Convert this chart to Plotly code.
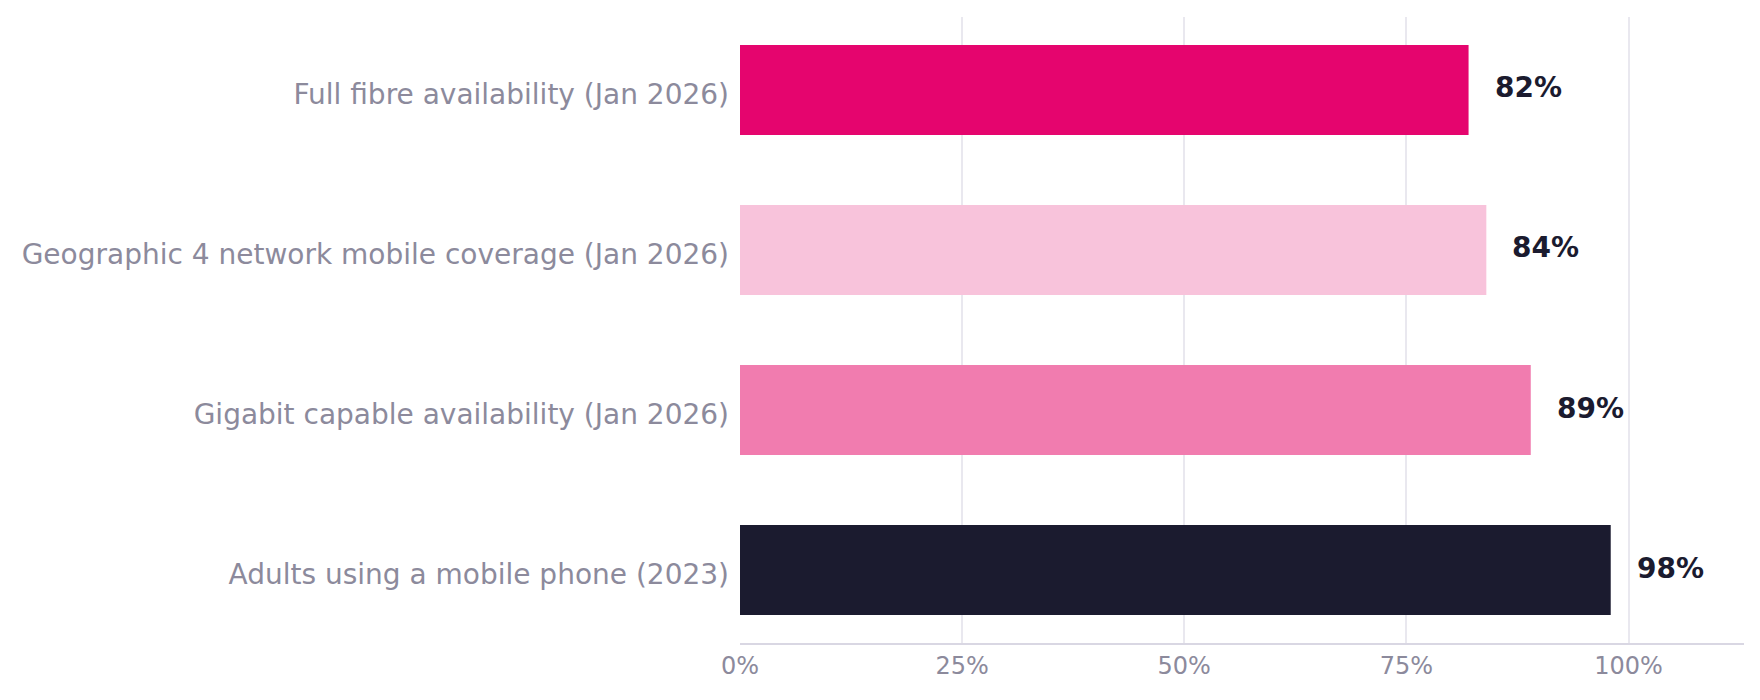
import plotly.graph_objects as go

# data
categories = [
    "Full fibre availability (Jan 2026)",
    "Geographic 4 network mobile coverage (Jan 2026)",
    "Gigabit capable availability (Jan 2026)",
    "Adults using a mobile phone (2023)",
]
values = [82, 84, 89, 98]
bar_colors = ["#E5056E", "#F8C3DB", "#F17CAF", "#1B1B2F"]
x_ticks = [0, 25, 50, 75, 100]
x_ticklabels = ["0%", "25%", "50%", "75%", "100%"]

FONT = "DejaVu Sans"
GREY = "#8C8A9C"
INK = "#1B1B2F"

fig = go.Figure(go.Bar(
    x=values, y=categories, orientation="h",
    marker=dict(color=bar_colors, line=dict(width=0)),
    width=0.5625, hoverinfo="skip", showlegend=False,
))

# value labels just past the bar ends
for cat, v in zip(categories, values):
    fig.add_annotation(
        x=v, y=cat, text=f"<b>{v}%</b>", showarrow=False,
        xanchor="left", xshift=24, yshift=2,
        font=dict(family=FONT, size=28, color=INK),
    )

# page body adds 8px, so margins are trimmed to land where the reference is
fig.update_layout(
    width=1760, height=700,
    margin=dict(l=732, r=24, t=9, b=65),
    plot_bgcolor="white", paper_bgcolor="white",
    font=dict(family=FONT, color=GREY),
    xaxis=dict(
        range=[0, 113], tickvals=x_ticks, ticktext=x_ticklabels,
        showgrid=True, gridcolor="#E9E8EF", gridwidth=2,
        zeroline=False, showline=True, linecolor="#D9D7E3", linewidth=2,
        ticks="", tickfont=dict(size=24, color=GREY, family=FONT),
    ),
    yaxis=dict(
        categoryorder="array", categoryarray=categories,
        range=[3.456, -0.456], showgrid=False, zeroline=False,
        showline=False, ticks="", ticklabelstandoff=10, ticklabelshift=-4,
        tickfont=dict(size=28, color=GREY, family=FONT),
    ),
)

fig.write_html("out.html")
